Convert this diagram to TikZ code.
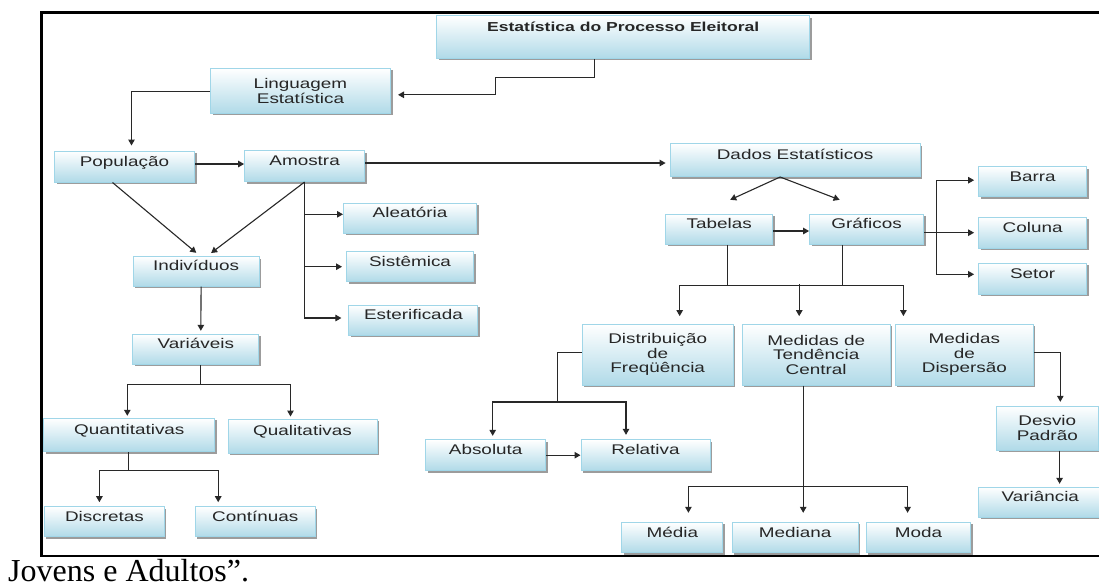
\documentclass[tikz,border=0pt]{standalone}
\usepackage{fontspec}
\setmainfont{Liberation Serif}
\newfontfamily\boxfont[FakeStretch=1.35]{Liberation Sans}
\usetikzlibrary{arrows.meta,shadows}
\definecolor{cellblue}{RGB}{176,218,232}
\definecolor{celledge}{RGB}{160,214,232}
\definecolor{wirecol}{RGB}{40,40,40}

\tikzset{
  cell/.style={draw=celledge, line width=1pt, top color=white, bottom color=cellblue,
    drop shadow={shadow xshift=2pt, shadow yshift=-2pt, fill=black!55, opacity=0.7},
    font=\boxfont\fontsize{14}{14.5}\selectfont, text=black!85, align=center, inner sep=0pt},
  one/.style={text height=10pt, text depth=11pt},
  sz/.style 2 args={minimum width=#1pt, minimum height=#2pt},
  wire/.style={draw=wirecol, line width=1.1pt},
  arr/.style={wire, -{Triangle[length=6pt,width=6.5pt]}},
}

\begin{document}
\begin{tikzpicture}[x=1pt,y=-1pt]
  \path[use as bounding box, fill=white] (0,0) rectangle (1099,587);
  % frame and caption
  \draw[line width=2.8pt] (1130,12.3) -| (41.2,556) -- (1130,556);
  \node[anchor=base west, inner sep=0pt, font=\fontsize{32}{36}\selectfont] (caption) at (8,581) {Jovens e Adultos”.};

  % top
  \node[cell, sz={373}{42.6}, text height=9.3pt, text depth=19.9pt,
        font=\boxfont\bfseries\fontsize{13}{15}\selectfont] (title) at (623.2,37) {Estatística do Processo Eleitoral};
  \node[cell, sz={180}{45}] (ling) at (300.5,90.8) {Linguagem\\Estatística};
  % left branch
  \node[cell, one, sz={140}{31}] (pop) at (124.5,166.5) {População};
  \node[cell, one, sz={120}{31}] (amo) at (304.6,166) {Amostra};
  \node[cell, one, sz={133}{30}] (alea) at (410,218.3) {Aleatória};
  \node[cell, one, sz={127}{30}] (sist) at (410,266.7) {Sistêmica};
  \node[cell, one, sz={129}{30}] (este) at (413.4,320) {Esterificada};
  \node[cell, one, sz={126}{29.5}] (ind) at (196.1,271.3) {Indivíduos};
  \node[cell, one, sz={126}{30}] (var) at (195.8,349.3) {Variáveis};
  \node[cell, one, sz={171}{33.4}] (quant) at (129.3,435) {Quantitativas};
  \node[cell, one, sz={149}{34}] (qual) at (302.5,436) {Qualitativas};
  \node[cell, one, sz={120}{30}] (disc) at (104.4,521.7) {Discretas};
  \node[cell, one, sz={120}{30}] (cont) at (255.2,521.7) {Contínuas};
  % right branch
  \node[cell, one, sz={250}{33}] (dados) at (795.1,160) {Dados Estatísticos};
  \node[cell, one, sz={107}{30}] (tab) at (719.2,229.3) {Tabelas};
  \node[cell, one, sz={114}{30}] (graf) at (866.6,229.3) {Gráficos};
  \node[cell, one, sz={108}{30}] (barra) at (1032.6,181.7) {Barra};
  \node[cell, one, sz={108}{31}] (coluna) at (1032.6,232.7) {Coluna};
  \node[cell, one, sz={108}{31}] (setor) at (1032.6,278.8) {Setor};
  \node[cell, sz={151}{61}] (dist) at (657.7,354.7) {Distribuição\\de\\Freqüência};
  \node[cell, sz={148}{61}] (mtc) at (816.2,354.7) {Medidas de\\Tendência\\Central};
  \node[cell, sz={138}{61}] (mdisp) at (964.4,354.7) {Medidas\\de\\Dispersão};
  \node[cell, one, sz={120}{30.7}] (abs) at (485.7,455.2) {Absoluta};
  \node[cell, one, sz={129}{30.7}] (rel) at (645.5,455.2) {Relativa};
  \node[cell, sz={101.5}{44}] (desv) at (1047.3,428) {Desvio\\Padrão};
  \node[cell, one, sz={123.4}{30}] (vari) at (1040.3,502) {Variância};
  \node[cell, one, sz={101}{30.4}] (media) at (672.4,537.5) {Média};
  \node[cell, one, sz={125.6}{30.4}] (mediana) at (795.2,537.5) {Mediana};
  \node[cell, one, sz={104.5}{30.4}] (moda) at (918.6,537.5) {Moda};

  % connectors, top
  \draw[arr, shorten >=7pt] ([xshift=-29pt]title.south) |- ++(-99,19) |- ([yshift=-4pt]ling.east);
  \draw[arr, shorten >=5pt] ([yshift=-1pt]ling.west) -| ([xshift=7pt]pop.north);
  \draw[arr] ([yshift=2.5pt]pop.east) -- ([yshift=2pt]amo.west);
  \draw[arr, shorten >=4pt] ([yshift=3pt]amo.east) -- ([yshift=-3pt]dados.west);
  % connectors, left
  \draw[arr, shorten >=5pt] ([xshift=-12pt]pop.south) -- ([xshift=4pt]ind.north);
  \draw[arr, shorten >=5pt] (amo.south) -- ([xshift=11pt]ind.north);
  \draw[arr] (amo.south) |- ([yshift=4pt]alea.west);
  \draw[arr, shorten >=4pt] (amo.south) |- (sist.west);
  \draw[arr, shorten >=7pt] (amo.south) |- ([yshift=2pt]este.west);
  \draw[arr, shorten >=3pt] ([xshift=5pt]ind.south) -- ([xshift=5pt]var.north);
  \draw[wire] ([xshift=5pt]var.south) -- ++(0,20) coordinate (vbus);
  \draw[arr, shorten >=2pt] (vbus) -| ([xshift=-2pt]quant.north);
  \draw[arr, shorten >=2pt] (vbus) -| ([xshift=-12pt]qual.north);
  \draw[wire] ([xshift=-1pt]quant.south) -- ++(0,18.3) coordinate (qbus);
  \draw[arr, shorten >=4pt] (qbus) -| ([xshift=-5pt]disc.north);
  \draw[arr, shorten >=4pt] (qbus) -| ([xshift=-37pt]cont.north);
  % connectors, right
  \draw[arr] ([xshift=-15pt]dados.south) -- ([xshift=11pt,yshift=14pt]tab.north);
  \draw[arr] ([xshift=-15pt]dados.south) -- ([xshift=-27pt,yshift=14pt]graf.north);
  \draw[arr] ([yshift=-1.7pt]tab.east) -- ([yshift=-1.7pt]graf.west);
  \draw[arr, shorten >=4pt] ([yshift=-3.4pt]graf.east) -- (coluna.west);
  \draw[arr, shorten >=4pt] ([xshift=12pt,yshift=-3.4pt]graf.east) |- ([yshift=1.5pt]barra.west);
  \draw[arr, shorten >=4pt] ([xshift=12pt,yshift=-3.4pt]graf.east) |- ([yshift=4.5pt]setor.west);
  \draw[wire] ([xshift=8.6pt]tab.south) -- ++(0,40.7) coordinate (tbus);
  \draw[wire] ([xshift=-23.7pt]graf.south) -- ++(0,40.7) coordinate (gbus);
  \draw[wire] (tbus) -- (gbus);
  \draw[arr, shorten >=7.6pt] (tbus) -| ([xshift=22pt]dist.north);
  \draw[arr, shorten >=7.6pt] (gbus) -| ([xshift=-61pt]mdisp.north);
  \draw[arr, shorten >=7.6pt] ([xshift=-17pt]mtc.north) ++(0,-39.3) -- ([xshift=-17pt]mtc.north);
  \draw[wire] ([yshift=2pt]dist.west) -| ++(-24,49.3) coordinate (dbus);
  \draw[arr, shorten >=3.5pt] (dbus) -| ([xshift=7pt]abs.north);
  \draw[arr, shorten >=4.5pt] (dbus) -| ([xshift=-19.5pt]rel.north);
  \draw[arr] (abs.east) -- (rel.west);
  \draw[arr, shorten >=9pt] ([xshift=-13pt]mtc.south) -- ([xshift=8pt]mediana.north);
  \path ([xshift=-13pt]mtc.south) ++(0,100.7) coordinate (mbus);
  \draw[arr, shorten >=9pt] (mbus) -| ([xshift=16pt]media.north);
  \draw[arr, shorten >=9pt] (mbus) -| ([xshift=-11pt]moda.north);
  \draw[arr, shorten >=3.7pt] ([yshift=2pt]mdisp.east) -| ([xshift=13pt]desv.north);
  \draw[arr, shorten >=2.7pt] ([xshift=12.3pt]desv.south) -- ([xshift=19.3pt]vari.north);
\end{tikzpicture}
\end{document}
